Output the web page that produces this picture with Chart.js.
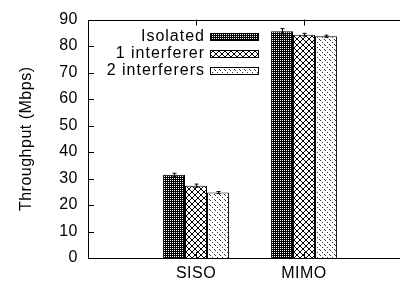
<!DOCTYPE html>
<html>
<head>
<meta charset="utf-8">
<script src="https://cdn.jsdelivr.net/npm/chart.js@4/dist/chart.umd.min.js"></script>
<style>
  html, body { margin: 0; padding: 0; background: #fff; overflow: hidden; }
  #wrap { width: 420px; height: 284px; }
</style>
</head>
<body>
<div id="wrap"><canvas id="chart" width="420" height="284"></canvas></div>
<script>
// Throughput per configuration (Mbps); blank slots pad the x range like gnuplot does
const categories = ['', 'SISO', 'MIMO', ''];
const seriesLabels = ['Isolated', '1 interferer', '2 interferers'];
const isolated = [null, 31.4, 85.6, null];
const oneInterferer = [null, 27.3, 84.3, null];
const twoInterferers = [null, 24.7, 83.7, null];
const isolatedErr = [null, 0.6, 1.0, null];
const oneInterfererErr = [null, 0.6, 0.5, null];
const twoInterferersErr = [null, 0.4, 0.4, null];
const yTicks = [0, 10, 20, 30, 40, 50, 60, 70, 80, 90];

const FONT = '"Liberation Sans", Arial, sans-serif';
const FONT_SIZE = 16;

// --- fill patterns (gnuplot-ish) ---
function makePattern(size, draw) {
  const c = document.createElement('canvas');
  c.width = size; c.height = size;
  const g = c.getContext('2d');
  g.fillStyle = '#fff';
  g.fillRect(0, 0, size, size);
  draw(g, size);
  return document.getElementById('chart').getContext('2d').createPattern(c, 'repeat');
}

const denseFill = makePattern(2, (g) => {
  g.fillStyle = '#000';
  g.fillRect(0, 0, 2, 2);
  g.fillStyle = '#fff';
  g.fillRect(0, 0, 1, 1);
});

const crossFill = makePattern(6, (g, s) => {
  g.fillStyle = '#000';
  for (let i = 0; i < s; i++) {
    g.fillRect(i, i, 1, 1);
    g.fillRect(s - 1 - i, i, 1, 1);
  }
});

const dotDiagFill = makePattern(5, (g, s) => {
  g.fillStyle = '#333';
  for (let i = 0; i < s; i += 2) {
    g.fillRect(i, i, 1, 1);
  }
});

const errorArrays = [isolatedErr, oneInterfererErr, twoInterferersErr];

// the reference text is set a bit loose
const spacing = {
  id: 'spacing',
  beforeDraw(chart) { chart.ctx.letterSpacing = '0.5px'; }
};

// frame, inward ticks, legend and error bars
const decorations = {
  id: 'decorations',
  afterDatasetsDraw(chart) {
    const { ctx, chartArea: a, scales } = chart;
    ctx.save();
    ctx.strokeStyle = '#000';
    ctx.lineWidth = 1;

    // error bars
    chart.data.datasets.forEach((ds, di) => {
      const meta = chart.getDatasetMeta(di);
      meta.data.forEach((bar, i) => {
        const v = ds.data[i];
        const e = errorArrays[di][i];
        if (v == null || e == null) return;
        const x = Math.round(bar.x) + 0.5;
        const y1 = scales.y.getPixelForValue(v + e);
        const y2 = scales.y.getPixelForValue(v - e);
        ctx.beginPath();
        ctx.moveTo(x, y1); ctx.lineTo(x, y2);
        ctx.moveTo(x - 2, y1); ctx.lineTo(x + 2, y1);
        ctx.moveTo(x - 2, y2); ctx.lineTo(x + 2, y2);
        ctx.stroke();
      });
    });

    // frame
    ctx.strokeRect(Math.round(a.left) + 0.5, Math.round(a.top) + 0.5,
      Math.round(a.right - a.left), Math.round(a.bottom - a.top));

    // y ticks pointing inward
    ctx.beginPath();
    yTicks.forEach(t => {
      const y = Math.round(scales.y.getPixelForValue(t)) + 0.5;
      ctx.moveTo(a.left, y); ctx.lineTo(a.left + 6, y);
    });
    // x ticks on top and bottom border
    ['SISO', 'MIMO'].forEach(lab => {
      const x = Math.round(scales.x.getPixelForValue(categories.indexOf(lab))) + 0.5;
      ctx.moveTo(x, a.top); ctx.lineTo(x, a.top + 6);
      ctx.moveTo(x, a.bottom); ctx.lineTo(x, a.bottom - 6);
    });
    ctx.stroke();

    // legend: text right aligned, sample box to the right
    ctx.font = FONT_SIZE + 'px ' + FONT;
    ctx.letterSpacing = '1px';
    ctx.textAlign = 'right';
    ctx.textBaseline = 'middle';
    chart.data.datasets.forEach((ds, di) => {
      const y = 37 + di * 17;
      ctx.fillStyle = '#000';
      ctx.fillText(ds.label, 205, y);
      ctx.fillStyle = ds.backgroundColor;
      ctx.fillRect(210, y - 4, 49, 8);
      ctx.strokeRect(210.5, y - 3.5, 48, 7);
    });
    ctx.restore();
  }
};

new Chart(document.getElementById('chart'), {
  type: 'bar',
  data: {
    labels: categories,
    datasets: [
      { label: seriesLabels[0], data: isolated, backgroundColor: denseFill },
      { label: seriesLabels[1], data: oneInterferer, backgroundColor: crossFill },
      { label: seriesLabels[2], data: twoInterferers, backgroundColor: dotDiagFill }
    ].map(d => Object.assign(d, { borderColor: '#000', borderWidth: 1, barPercentage: 1, categoryPercentage: 0.61 }))
  },
  options: {
    responsive: false,
    animation: false,
    layout: { padding: { left: 14, top: 14, right: 8, bottom: 0 } },
    plugins: { legend: { display: false }, tooltip: { enabled: false } },
    scales: {
      x: {
        offset: false,
        grid: { display: false, drawTicks: false },
        border: { display: false },
        ticks: { color: '#000', font: { family: FONT, size: FONT_SIZE }, padding: 6, autoSkip: false, maxRotation: 0 },
        afterFit(s) { s.height = 26; }
      },
      y: {
        min: 0, max: 90,
        grid: { display: false, drawTicks: false },
        border: { display: false },
        ticks: { stepSize: 10, color: '#000', font: { family: FONT, size: FONT_SIZE }, padding: 10 },
        title: { display: true, text: 'Throughput (Mbps)', color: '#000', font: { family: FONT, size: 16 }, padding: { top: 3, bottom: 4 } },
        afterFit(s) { s.width = 74; }
      }
    }
  },
  plugins: [spacing, decorations]
});
</script>
</body>
</html>
